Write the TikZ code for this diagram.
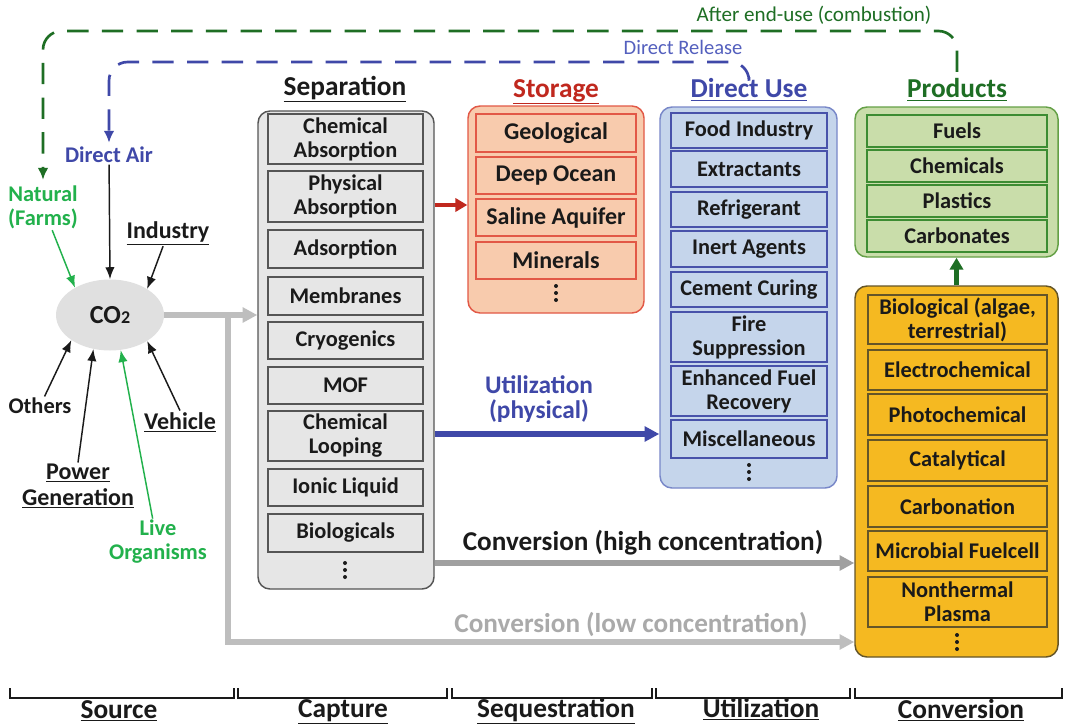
\documentclass[tikz,border=0pt]{standalone}
\usepackage{fontspec}
\setmainfont{Carlito}
\usetikzlibrary{arrows.meta,calc,shapes.geometric}
\definecolor{dgreen}{RGB}{30,110,36}
\definecolor{bgreen}{RGB}{34,177,76}
\definecolor{dblue}{RGB}{63,72,168}
\definecolor{lblue}{RGB}{84,96,190}
\definecolor{txt}{RGB}{26,26,26}
\definecolor{sepf}{RGB}{230,230,230}
\definecolor{sepb}{RGB}{85,85,85}
\definecolor{stf}{RGB}{248,203,173}
\definecolor{stb}{RGB}{226,88,70}
\definecolor{sttitle}{RGB}{192,40,30}
\definecolor{duf}{RGB}{197,213,235}
\definecolor{dub}{RGB}{120,135,200}
\definecolor{dui}{RGB}{72,82,170}
\definecolor{prf}{RGB}{201,221,170}
\definecolor{prb}{RGB}{100,160,70}
\definecolor{pri}{RGB}{60,140,50}
\definecolor{cvf}{RGB}{245,185,33}
\definecolor{cvb}{RGB}{100,85,40}
\definecolor{cofill}{RGB}{224,224,224}
\definecolor{highg}{RGB}{160,160,160}
\definecolor{lowg}{RGB}{190,190,190}
\definecolor{lowt}{RGB}{170,170,170}
\newcommand\itmfont{\fontsize{16.8}{18}\selectfont\bfseries}
\newcommand\stfont{\fontsize{18}{18}\selectfont\bfseries}
\newcommand\ttlfont{\fontsize{20.5}{22}\selectfont\bfseries}
\newcommand\srcfont{\fontsize{16.8}{18}\selectfont\bfseries}
\newcommand\srcufont{\fontsize{18}{19}\selectfont\bfseries}
% \mybox{style}{name}{x1}{y1}{x2}{y2}{text}
\newcommand\mybox[7]{\node[#1, minimum width={(#5-#3)*0.75pt}, minimum height={(#6-#4)*0.75pt}] (#2) at ({(#3+#5)/2},{(#4+#6)/2}) {#7};}
% \threedots{x}{y}
\newcommand\threedots[2]{\fill[txt] (#1,#2-7) circle (1.5pt) (#1,#2) circle (1.5pt) (#1,#2+7) circle (1.5pt);}
\tikzset{
  itm/.style={draw, inner sep=0pt, align=center, font=\itmfont, text=txt, line width=0.8pt},
  sepitm/.style={itm, draw=sepb, fill=sepf},
  stitm/.style={itm, draw=stb, fill=stf, font=\stfont},
  duitm/.style={itm, draw=dui, fill=duf},
  pritm/.style={itm, draw=pri, fill=prf},
  cvitm/.style={itm, draw=cvb, fill=cvf},
  outer/.style={inner sep=0pt, rounded corners=9pt, line width=1.1pt},
  ttl/.style={font=\ttlfont, inner sep=1pt, anchor=base},
  src/.style={font=\srcfont, align=center, inner sep=1pt, text=txt},
  srcu/.style={font=\srcufont, align=center, inner sep=1pt, text=txt},
  blk/.style={draw=txt, line width=1.1pt, -{Latex[length=9pt,width=7pt]}},
  grn/.style={draw=bgreen, line width=1.1pt, -{Latex[length=9pt,width=7pt]}},
  gdash/.style={draw=dgreen, line width=2pt, dash pattern=on 16pt off 10pt, rounded corners=14pt, -{Latex[length=9pt,width=8pt]}},
  bdash/.style={draw=dblue, line width=2pt, dash pattern=on 16pt off 10pt, rounded corners=14pt, -{Latex[length=9pt,width=8pt]}},
  thick arrow/.style={line width=3.8pt, -{Triangle[length=11pt,width=11pt]}},
}
\begin{document}
\begin{tikzpicture}[x=0.75pt,y=-0.75pt]
\useasboundingbox[fill=white] (0,0) rectangle (1066,724);

% ---------- outer boxes ----------
\mybox{outer, draw=sepb, fill=sepf}{sep}{258}{111}{434}{589}{}
\mybox{outer, draw=stb, fill=stf}{st}{468}{106}{644}{313}{}
\mybox{outer, draw=dub, fill=duf}{du}{660}{107}{837}{488}{}
\mybox{outer, draw=prb, fill=prf}{pr}{855}{107}{1058}{257}{}
\mybox{outer, draw=cvb, fill=cvf}{cv}{855}{286}{1058}{657}{}

% ---------- titles ----------
\node[ttl, text=txt] (sept) at (345,95) {\underline{Separation}};
\node[ttl, text=sttitle] (stt) at (556,97) {\underline{Storage}};
\node[ttl, text=dblue] (dut) at (749,98) {\underline{Direct Use}};
\node[ttl, text=dgreen] (prt) at (957,98) {\underline{Products}};

% ---------- separation items ----------
\mybox{sepitm}{s1}{268}{114}{423}{164}{Chemical\\Absorption}
\mybox{sepitm}{s2}{268}{171}{423}{222}{Physical\\Absorption}
\mybox{sepitm}{s3}{268}{230}{423}{268}{Adsorption}
\mybox{sepitm}{s4}{268}{277}{423}{315}{Membranes}
\mybox{sepitm}{s5}{268}{322}{423}{359}{Cryogenics}
\mybox{sepitm}{s6}{268}{367}{423}{404}{MOF}
\mybox{sepitm}{s7}{268}{411}{423}{461}{Chemical\\Looping}
\mybox{sepitm}{s8}{268}{469}{423}{506}{Ionic Liquid}
\mybox{sepitm}{s9}{268}{514}{423}{552}{Biologicals}
\threedots{345}{570}

% ---------- storage items ----------
\mybox{stitm}{t1}{476}{114}{636}{152}{Geological}
\mybox{stitm}{t2}{476}{157}{636}{194}{Deep Ocean}
\mybox{stitm}{t3}{476}{199}{636}{236}{Saline Aquifer}
\mybox{stitm}{t4}{476}{242}{636}{279}{Minerals}
\threedots{556}{293}

% ---------- direct use items ----------
\mybox{duitm}{d1}{671}{113}{827}{148}{Food Industry}
\mybox{duitm}{d2}{671}{151}{827}{187}{Extractants}
\mybox{duitm}{d3}{671}{192}{827}{227}{Refrigerant}
\mybox{duitm}{d4}{671}{231}{827}{267}{Inert Agents}
\mybox{duitm}{d5}{671}{272}{827}{307}{Cement Curing}
\mybox{duitm}{d6}{671}{312}{827}{362}{Fire\\Suppression}
\mybox{duitm}{d7}{671}{366}{827}{416}{Enhanced Fuel\\Recovery}
\mybox{duitm}{d8}{671}{420}{827}{458}{Miscellaneous}
\threedots{749}{472}

% ---------- products items ----------
\mybox{pritm}{p1}{867}{115}{1047}{147}{Fuels}
\mybox{pritm}{p2}{867}{150}{1047}{182}{Chemicals}
\mybox{pritm}{p3}{867}{185}{1047}{217}{Plastics}
\mybox{pritm}{p4}{867}{220}{1047}{252}{Carbonates}

% ---------- conversion items ----------
\mybox{cvitm}{c1}{868}{295}{1047}{344}{Biological (algae,\\terrestrial)}
\mybox{cvitm}{c2}{868}{350}{1047}{390}{Electrochemical}
\mybox{cvitm}{c3}{868}{394}{1047}{435}{Photochemical}
\mybox{cvitm}{c4}{868}{440}{1047}{481}{Catalytical}
\mybox{cvitm}{c5}{868}{486}{1047}{527}{Carbonation}
\mybox{cvitm}{c6}{868}{531}{1047}{571}{Microbial Fuelcell}
\mybox{cvitm}{c7}{868}{577}{1047}{627}{Nonthermal\\Plasma}
\threedots{957}{642}

% ---------- source ----------
\node[ellipse, fill=cofill, minimum width=108*0.75pt, minimum height=71*0.75pt, inner sep=0pt,
      font=\fontsize{19.5}{20}\selectfont\bfseries, text=txt] (co2) at (110,315) {CO{\fontsize{13.5}{13}\selectfont 2}};
\node[src, text=dblue] (da) at (109,155) {Direct Air};
\node[src, text=bgreen] (nat) at (43,207) {Natural\\(Farms)};
\node[srcu] (ind) at (168,233) {\underline{Industry}};
\node[src] (oth) at (40,406) {Others};
\node[srcu] (veh) at (180,422) {\underline{Vehicle}};
\node[srcu] (pg) at (78,486) {\underline{Power}\\\underline{Generation}};
\node[src, text=bgreen] (lo) at (158,542) {Live\\Organisms};

\draw[blk] (da) -- (co2.north);
\draw[blk] (ind) -- (co2.35);
\draw[grn] (nat) -- (co2.142);
\draw[blk] (oth) -- (co2.213);
\draw[blk] (pg.north) -- (co2.244);
\draw[grn] ([xshift=-4pt]lo.north) -- (co2.287);
\draw[blk] (veh.north) -- (co2.325);

% ---------- dashed feedback lines ----------
\coordinate (gtop) at (0,31);
\coordinate (btop) at (0,62);
\draw[gdash] ([yshift=4pt]prt.north) -- (prt.north |- gtop) -- (nat.north |- gtop) -- ([yshift=3pt]nat.north);
\draw[bdash] (dut.north) -- (dut.north |- btop) -- (da.north |- btop) -- ([yshift=2pt]da.north);
\node[font=\fontsize{15.8}{17}\selectfont, text=dgreen] (ael) at (814,15) {After end-use (combustion)};
\node[font=\fontsize{15.4}{17}\selectfont, text=lblue] (drl) at (683,47) {Direct Release};

% ---------- main connectors ----------
\coordinate (ry) at (0,205);
\coordinate (uy) at (0,434);
\coordinate (hy) at (0,563);
\coordinate (ly) at (0,642);
\draw[thick arrow, draw=lowg, line width=4.5pt] (co2.east) -- (sep.west |- co2.east);
\draw[thick arrow, draw=lowg, line width=4.5pt] ($(co2.east)!0.68!(sep.west |- co2.east)$) |- (cv.west |- ly);
\draw[thick arrow, draw=sttitle, line width=3.5pt, -{Triangle[length=9pt,width=10pt]}] (sep.east |- ry) -- (st.west |- ry);
\draw[thick arrow, draw=dblue, line width=4.5pt] (sep.east |- uy) -- (du.west |- uy);
\draw[thick arrow, draw=highg, line width=4.5pt] (sep.east |- hy) -- (cv.west |- hy);
\draw[thick arrow, draw=dgreen, line width=3.5pt, -{Triangle[length=9pt,width=10pt]}] (cv.north) -- (pr.south);

\node[font=\fontsize{19}{19}\selectfont\bfseries, text=dblue, align=center] (ul) at (539,399) {Utilization\\(physical)};
\node[font=\fontsize{20.4}{21}\selectfont\bfseries, text=txt] (hl) at (643,543) {Conversion (high concentration)};
\node[font=\fontsize{20.4}{21}\selectfont\bfseries, text=lowt] (ll) at (631,624) {Conversion (low concentration)};

% ---------- bottom brackets ----------
\foreach \a/\b in {10/234, 238/447, 452/652, 656/850, 855/1062}
  \draw[line width=0.9pt, draw=txt] (\a,688) -- (\a,698) -- (\b,698) -- (\b,688);
\node[ttl, text=txt] (b1) at (119,718) {\underline{Source}};
\node[ttl, text=txt] (b2) at (343,717) {\underline{Capture}};
\node[ttl, text=txt] (b3) at (556,717) {\underline{Sequestration}};
\node[ttl, text=txt] (b4) at (761,717) {\underline{Utilization}};
\node[ttl, text=txt] (b5) at (961,718) {\underline{Conversion}};
\end{tikzpicture}
\end{document}
